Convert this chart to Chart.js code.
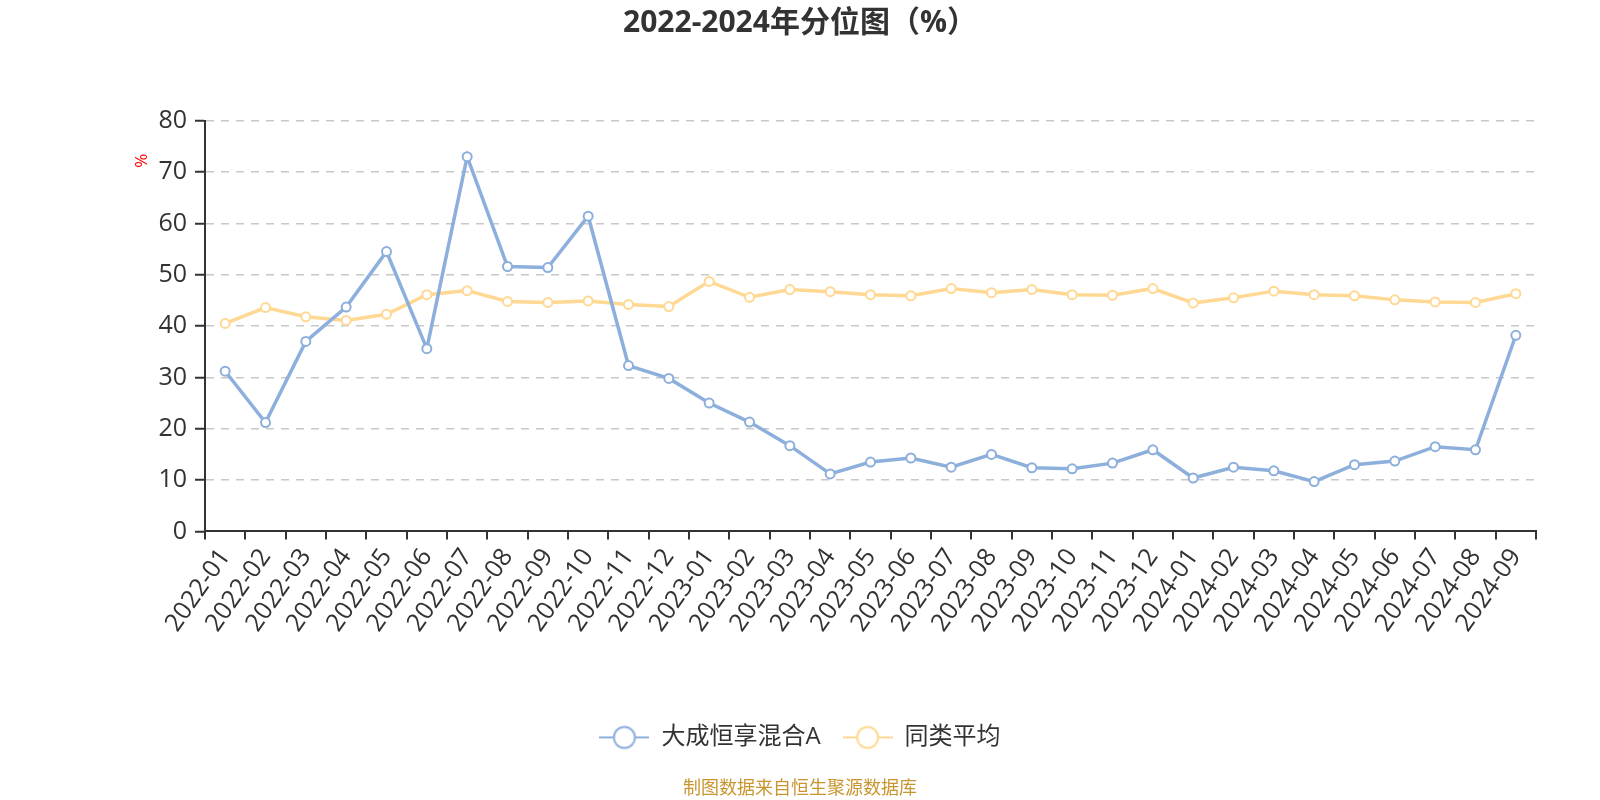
<!DOCTYPE html>
<html>
<head>
<meta charset="utf-8">
<script src="https://cdn.jsdelivr.net/npm/chart.js@4.4.0/dist/chart.umd.min.js"></script>
<style>
  body { margin: 0; background: #fff; }
  #wrap { width: 1600px; height: 800px; }
</style>
</head>
<body>
<div id="wrap"><canvas id="lineChart" width="1600" height="800"></canvas></div>
<script>
const months = ["2022-01","2022-02","2022-03","2022-04","2022-05","2022-06","2022-07","2022-08","2022-09","2022-10","2022-11","2022-12",
  "2023-01","2023-02","2023-03","2023-04","2023-05","2023-06","2023-07","2023-08","2023-09","2023-10","2023-11","2023-12",
  "2024-01","2024-02","2024-03","2024-04","2024-05","2024-06","2024-07","2024-08","2024-09"];
const fundValues = [31.2, 21.2, 37.0, 43.7, 54.5, 35.6, 73.0, 51.6, 51.4, 61.4, 32.3, 29.8,
  25.0, 21.3, 16.7, 11.2, 13.5, 14.3, 12.5, 15.0, 12.4, 12.2, 13.3, 15.9,
  10.4, 12.5, 11.8, 9.7, 13.0, 13.7, 16.5, 15.9, 38.2];
const peerValues = [40.5, 43.6, 41.8, 41.1, 42.3, 46.1, 46.9, 44.8, 44.6, 44.9, 44.2, 43.8,
  48.7, 45.6, 47.1, 46.7, 46.1, 45.9, 47.3, 46.5, 47.1, 46.1, 46.0, 47.3,
  44.5, 45.5, 46.8, 46.1, 45.9, 45.1, 44.7, 44.6, 46.3];
const yTicks = [0, 10, 20, 30, 40, 50, 60, 70, 80];

const BLUE = '#8DAFDC';
const YELLOW = '#FFD993';
const FONT = '"Open Sans", "Noto Sans CJK SC", sans-serif';

// legend symbol: short line with hollow circle
function legendSymbol(color) {
  const c = document.createElement('canvas');
  c.width = 50; c.height = 26;
  const g = c.getContext('2d');
  g.strokeStyle = color;
  g.lineWidth = 2;
  g.beginPath(); g.moveTo(0, 13); g.lineTo(50, 13); g.stroke();
  g.beginPath(); g.arc(25, 13, 10.5, 0, Math.PI * 2);
  g.fillStyle = '#fff'; g.fill(); g.stroke();
  return c;
}

const unitLabel = {
  id: 'unitLabel',
  afterDraw(chart) {
    const ctx = chart.ctx;
    const y = chart.scales.y;
    ctx.save();
    ctx.translate(chart.chartArea.left - 63, y.top + 40);
    ctx.rotate(-Math.PI / 2);
    ctx.fillStyle = '#ff0000';
    ctx.font = '17px ' + FONT;
    ctx.textAlign = 'center';
    ctx.textBaseline = 'middle';
    ctx.fillText('%', 0, 0);
    ctx.restore();
  }
};

Chart.defaults.font.family = FONT;
Chart.defaults.color = '#333';

const CHART = document.getElementById('lineChart');
let lineChart = new Chart(CHART, {
  type: 'line',
  data: {
    labels: months,
    datasets: [
      {
        label: '大成恒享混合A',
        data: fundValues,
        borderColor: BLUE,
        backgroundColor: '#fff',
        borderWidth: 3.5,
        pointRadius: 4.5,
        pointBorderWidth: 2,
        pointBackgroundColor: '#fff',
        pointBorderColor: BLUE,
        tension: 0
      },
      {
        label: '同类平均',
        data: peerValues,
        borderColor: YELLOW,
        backgroundColor: '#fff',
        borderWidth: 3.5,
        pointRadius: 4.5,
        pointBorderWidth: 2,
        pointBackgroundColor: '#fff',
        pointBorderColor: YELLOW,
        tension: 0
      }
    ]
  },
  options: {
    responsive: false,
    animation: false,
    layout: { padding: 0 },
    plugins: {
      title: {
        display: true,
        text: '2022-2024年分位图（%）',
        color: '#333',
        font: { size: 30, weight: 'bold' },
        padding: { top: 5, bottom: 79.7 }
      },
      subtitle: {
        display: true,
        position: 'bottom',
        text: '制图数据来自恒生聚源数据库',
        color: '#C9952F',
        font: { size: 18 },
        padding: { top: 19, bottom: 0 }
      },
      legend: {
        position: 'bottom',
        labels: {
          usePointStyle: true,
          pointStyleWidth: 50,
          padding: 22,
          color: '#333',
          font: { size: 24 },
          generateLabels(chart) {
            return chart.data.datasets.map((ds, i) => ({
              text: ds.label,
              pointStyle: legendSymbol(ds.borderColor),
              fillStyle: '#fff',
              strokeStyle: ds.borderColor,
              lineWidth: 0,
              hidden: false,
              datasetIndex: i,
              fontColor: '#333'
            }));
          }
        }
      },
      tooltip: { enabled: false }
    },
    scales: {
      x: {
        offset: true,
        grid: {
          offset: true,
          drawOnChartArea: false,
          drawTicks: true,
          tickLength: 8,
          color: '#333',
          lineWidth: 2
        },
        border: { color: '#333', width: 2 },
        ticks: {
          autoSkip: false,
          minRotation: 55,
          maxRotation: 55,
          padding: 4,
          color: '#333',
          font: { size: 25 }
        },
        afterFit(scale) { scale.height = 172; }
      },
      y: {
        min: 0,
        max: 80,
        afterBuildTicks(scale) { scale.ticks = yTicks.map(v => ({ value: v })); },
        grid: {
          color: ctx => (ctx.tick && ctx.tick.value === 0) ? 'rgba(0,0,0,0)' : '#c8c8c8',
          lineWidth: 1.5,
          tickColor: '#333',
          tickWidth: 2,
          tickLength: 10,
          drawTicks: true
        },
        border: { color: '#333', width: 2, dash: [8, 7] },
        ticks: {
          padding: 8,
          color: '#333',
          font: { size: 25 }
        },
        afterFit(scale) { scale.width = 205; }
      },
      // empty right-hand spacer so the plot ends where the reference does
      spacer: {
        type: 'linear',
        position: 'right',
        grid: { display: false, drawTicks: false },
        border: { display: false },
        ticks: { display: false },
        afterFit(scale) { scale.width = 64; }
      }
    }
  },
  plugins: [unitLabel]
});
</script>
</body>
</html>
